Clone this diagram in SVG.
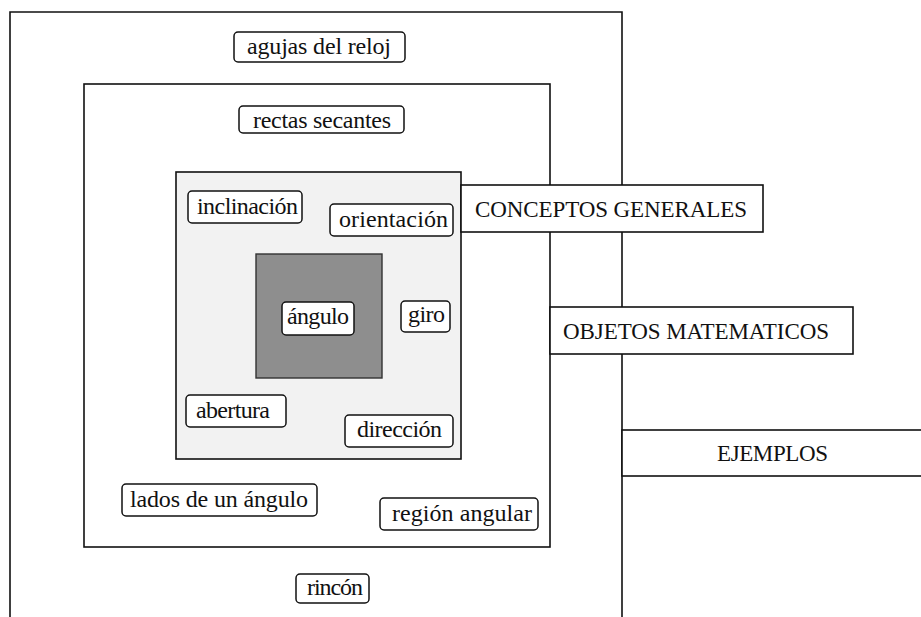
<svg xmlns="http://www.w3.org/2000/svg" width="921" height="617" viewBox="0 0 921 617">
<style>
.frame{fill:none;stroke:#111;stroke-width:1.6}
.lbl{fill:#fff;stroke:#111;stroke-width:1.5}
.box{fill:#fff;stroke:#111;stroke-width:1.6}
text{font-family:"Liberation Serif","Times New Roman",serif;font-size:24px;fill:#111}
.big{font-size:23px}
.c{text-anchor:middle}
</style>
<rect width="921" height="617" fill="#fff"/>
<g id="frame-ejemplos">
<path class="frame" d="M10,617 V12 H622 V617"/>
</g>
<g id="frame-objetos">
<rect class="frame" x="84" y="84" width="466" height="463"/>
</g>
<g id="frame-conceptos">
<rect x="176" y="172" width="285" height="287" fill="#f2f2f2" stroke="#111" stroke-width="1.6"/>
</g>
<g id="core">
<rect x="256" y="254" width="126" height="124" fill="#8e8e8e" stroke="#333" stroke-width="1.4"/>
</g>
<g id="connectors"></g>
<g id="n-agujas"><rect class="lbl" x="234" y="32" width="171" height="30" rx="4"/><text x="319" y="54" class="c" textLength="144">agujas del reloj</text></g>
<g id="n-rectas"><rect class="lbl" x="239" y="106" width="165" height="27" rx="4"/><text x="322" y="128" class="c" textLength="138">rectas secantes</text></g>
<g id="n-inclinacion"><rect class="lbl" x="188" y="191" width="114" height="32" rx="4"/><text x="247.5" y="214" class="c" textLength="101">inclinación</text></g>
<g id="n-orientacion"><rect class="lbl" x="330" y="204" width="123" height="32" rx="4"/><text x="393.5" y="227" class="c" textLength="109">orientación</text></g>
<g id="n-angulo"><rect class="lbl" x="282" y="302" width="72" height="33" rx="4"/><text x="318" y="324" class="c" textLength="62">ángulo</text></g>
<g id="n-giro"><rect class="lbl" x="401" y="301" width="49" height="31" rx="4"/><text x="426.5" y="322" class="c" textLength="37">giro</text></g>
<g id="n-abertura"><rect class="lbl" x="186" y="395" width="100" height="32" rx="4"/><text x="233" y="418" class="c" textLength="74">abertura</text></g>
<g id="n-direccion"><rect class="lbl" x="345" y="415" width="108" height="32" rx="4"/><text x="399.5" y="437" class="c" textLength="85">dirección</text></g>
<g id="n-lados"><rect class="lbl" x="122" y="484" width="195" height="32" rx="4"/><text x="219" y="507" class="c" textLength="178">lados de un ángulo</text></g>
<g id="n-region"><rect class="lbl" x="380" y="498" width="158" height="32" rx="4"/><text x="462" y="521" class="c" textLength="140">región angular</text></g>
<g id="n-rincon"><rect class="lbl" x="296" y="574" width="73" height="29" rx="4"/><text x="335" y="595" class="c" textLength="56">rincón</text></g>
<g id="t-conceptos"><rect class="box" x="461" y="185" width="302" height="47"/><text x="611" y="217" class="c big" textLength="272">CONCEPTOS GENERALES</text></g>
<g id="t-objetos"><rect class="box" x="550" y="307" width="303" height="47"/><text x="696" y="339" class="c big" textLength="266">OBJETOS MATEMATICOS</text></g>
<g id="t-ejemplos"><rect class="box" x="622" y="430" width="310" height="46"/><text x="772.5" y="461" class="c big" textLength="111">EJEMPLOS</text></g>
</svg>
